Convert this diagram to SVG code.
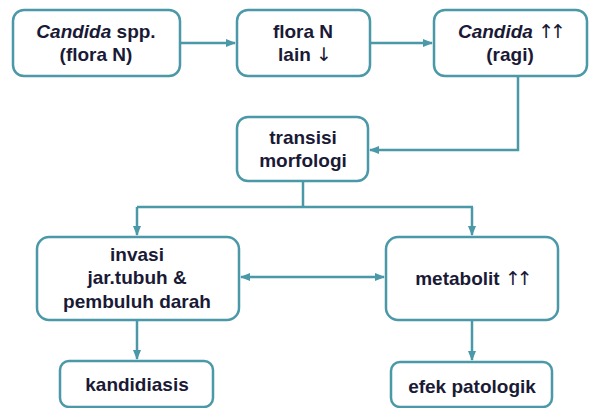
<svg xmlns="http://www.w3.org/2000/svg" width="590" height="408" viewBox="0 0 590 408">
<defs>
<marker id="ah" viewBox="0 0 10 10" refX="9" refY="5" markerWidth="4" markerHeight="4" orient="auto-start-reverse" markerUnits="strokeWidth">
<path d="M0,1 L10,5 L0,9 Z" fill="#4a98a8"/>
</marker>
<style>
.box{fill:#fff;stroke:#4a98a8;stroke-width:2.5}
.t{font-family:"Liberation Sans",Arial,sans-serif;font-weight:bold;font-size:19px;fill:#1a1a36;text-anchor:middle}
.ar{font-family:"DejaVu Sans",sans-serif;font-weight:normal;font-size:19px;letter-spacing:-4px}
.c{fill:none;stroke:#4a98a8;stroke-width:2.5}
</style>
</defs>
<rect width="590" height="408" fill="#fff"/>
<g id="connectors">
<path class="c" d="M180,43 L235,43" marker-end="url(#ah)"/>
<path class="c" d="M370,43 L432,43" marker-end="url(#ah)"/>
<path class="c" d="M518,76 L518,150 L370,150" marker-end="url(#ah)"/>
<path class="c" d="M303,181 L303,207"/>
<path class="c" d="M137,207 L473,207"/>
<path class="c" d="M137,207 L137,235" marker-end="url(#ah)"/>
<path class="c" d="M472,207 L472,235" marker-end="url(#ah)"/>
<path class="c" d="M241,277 L384,277" marker-start="url(#ah)" marker-end="url(#ah)"/>
<path class="c" d="M137,320 L137,359" marker-end="url(#ah)"/>
<path class="c" d="M472,320 L472,360" marker-end="url(#ah)"/>
</g>
<g id="n1">
<rect class="box" x="13" y="10" width="167" height="66" rx="11"/>
<text class="t" x="96" y="38"><tspan font-style="italic">Candida</tspan> spp.</text>
<text class="t" x="96" y="61">(flora N)</text>
</g>
<g id="n2">
<rect class="box" x="237" y="10" width="133" height="66" rx="11"/>
<text class="t" x="303" y="38">flora N</text>
<text class="t" x="303" y="61">lain <tspan class="ar">↓</tspan></text>
</g>
<g id="n3">
<rect class="box" x="434" y="10" width="153" height="66" rx="11"/>
<text class="t" x="510" y="38"><tspan font-style="italic">Candida</tspan> <tspan class="ar">↑↑</tspan></text>
<text class="t" x="510" y="61">(ragi)</text>
</g>
<g id="n4">
<rect class="box" x="237" y="117" width="131" height="64" rx="11"/>
<text class="t" x="303" y="144">transisi</text>
<text class="t" x="303" y="167">morfologi</text>
</g>
<g id="n5">
<rect class="box" x="37" y="237" width="202" height="83" rx="12"/>
<text class="t" x="137" y="261">invasi</text>
<text class="t" x="137" y="284">jar.tubuh &amp;</text>
<text class="t" x="137" y="308">pembuluh darah</text>
</g>
<g id="n6">
<rect class="box" x="386" y="237" width="172" height="83" rx="12"/>
<text class="t" x="472" y="285">metabolit <tspan class="ar">↑↑</tspan></text>
</g>
<g id="n7">
<rect class="box" x="60" y="361" width="153" height="46" rx="9"/>
<text class="t" x="137" y="391">kandidiasis</text>
</g>
<g id="n8">
<rect class="box" x="391" y="362" width="161" height="45" rx="9"/>
<text class="t" x="472" y="393">efek patologik</text>
</g>
</svg>
